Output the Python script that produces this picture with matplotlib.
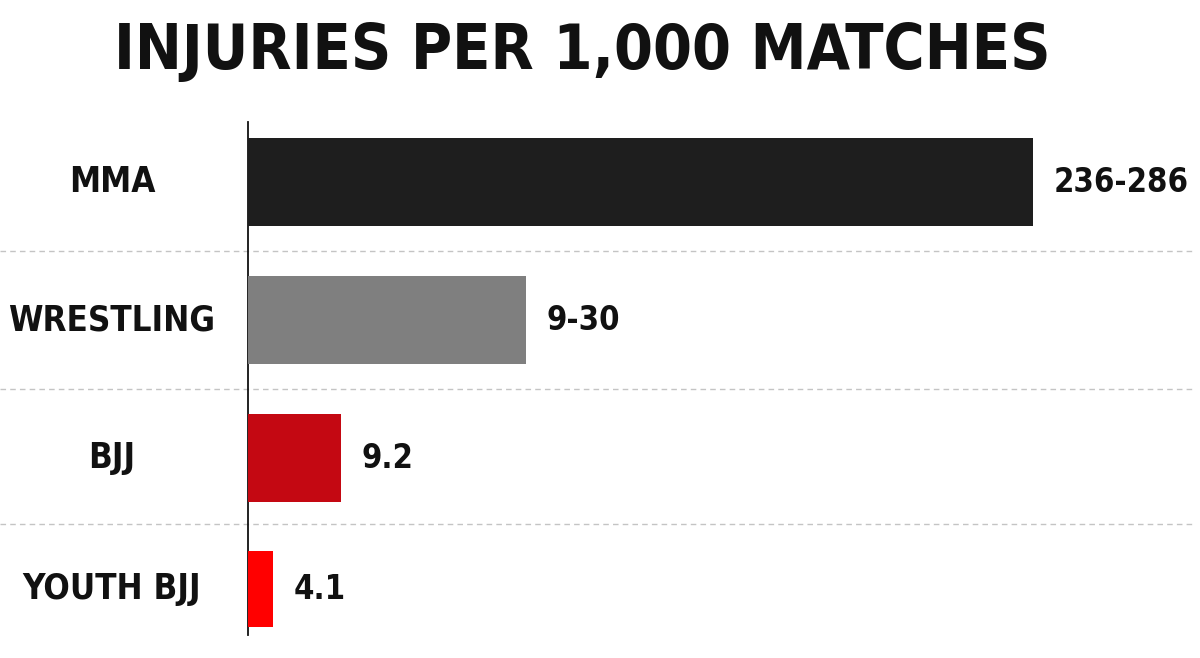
import matplotlib
matplotlib.use("Agg")
import matplotlib.pyplot as plt

categories = ["MMA", "WRESTLING", "BJJ", "YOUTH BJJ"]
value_labels = ["236-286", "9-30", "9.2", "4.1"]
# bar lengths as drawn in the picture (not to scale with the labels), MMA = 100
bar_lengths = [100, 35.4, 11.8, 3.2]
colors = ["#1e1e1e", "#7f7f7f", "#c40812", "#ff0000"]

FONT = ["Liberation Sans Narrow", "DejaVu Sans"]
plt.rcParams["font.family"] = FONT

fig = plt.figure(figsize=(12, 6.58), dpi=100)
W, H = 1200, 658
ax_left, ax_right = 248, 1195
ax_top, ax_bot = 122, 635
ax = fig.add_axes([ax_left / W, 1 - ax_bot / H, (ax_right - ax_left) / W, (ax_bot - ax_top) / H])

ypos = [0, 1, 2, 2.95]
heights = [0.64, 0.64, 0.64, 0.55]
ax.barh(ypos, bar_lengths, height=heights, color=colors, zorder=3)
ax.set_xlim(0, 100 * (ax_right - ax_left) / 785)
ax.set_ylim(3.28, -0.435)

for s in ["top", "right", "bottom"]:
    ax.spines[s].set_visible(False)
ax.spines["left"].set_linewidth(1.3)
ax.spines["left"].set_color("#111111")
ax.set_xticks([])
ax.set_yticks([])

for y0, y1 in zip(ypos[:-1], ypos[1:]):
    ax.axhline((y0 + y1) / 2, xmin=-ax_left / (ax_right - ax_left), xmax=1,
               color="#c4c4c4", lw=1, ls=(0, (4, 3)), clip_on=False, zorder=1)

for y, name, length, lab in zip(ypos, categories, bar_lengths, value_labels):
    ax.annotate(name, xy=(0, y), xycoords=("axes fraction", "data"),
                xytext=(-98, 0), textcoords="offset points",
                ha="center", va="center", fontsize=25, fontweight="bold",
                fontstretch="condensed", color="#111111")
    ax.annotate(lab, xy=(length, y), xytext=(15, 0), textcoords="offset points",
                ha="left", va="center", fontsize=23.5, fontweight="bold",
                fontstretch="condensed", color="#111111")

fig.text(582 / W, 1 - 52 / H, "INJURIES PER 1,000 MATCHES", ha="center", va="center",
         fontsize=45, fontweight="bold", fontstretch="condensed", color="#111111")

fig.savefig("out.png", dpi=100, facecolor="white")
